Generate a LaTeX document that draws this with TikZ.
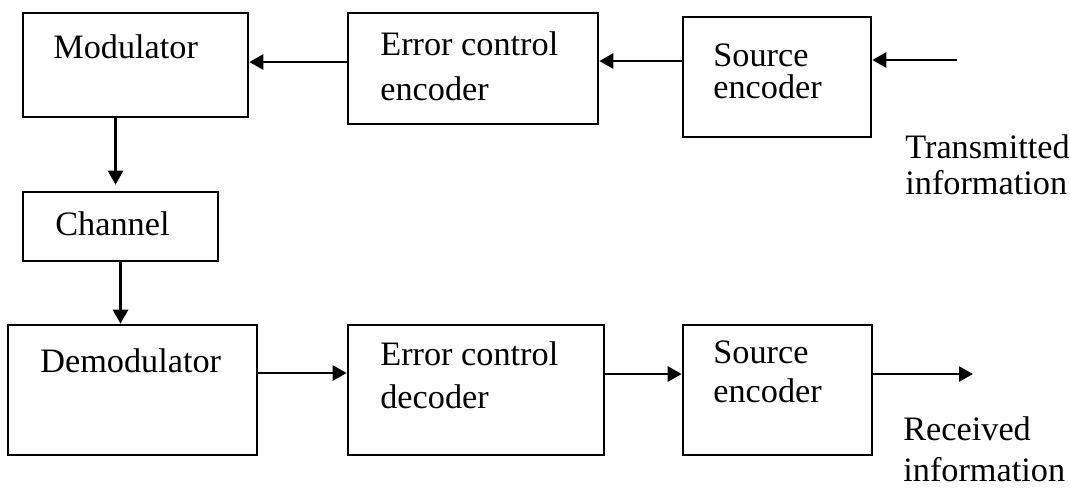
\documentclass[tikz,border=0pt]{standalone}
\usepackage{fontspec}
\setmainfont{Liberation Serif}
\usetikzlibrary{arrows.meta}
\tikzset{
	blk/.style={draw, rectangle, line width=1.5pt, inner sep=0pt},
	txt/.style={anchor=base west, inner sep=0pt, font=\fontsize{19.5}{23}\selectfont},
	arr/.style={line width=1.5pt, -{Triangle[length=0.28cm,width=0.3cm]}}
}
\begin{document}
\begin{tikzpicture}[x=0.02cm, y=-0.02cm]
			\useasboundingbox (0,0) rectangle (1070,488);

			% transmitter row
			\node [blk, minimum width=4.5cm, minimum height=2.08cm] (mod) at (135.5,65) {};
			\node [blk, minimum width=5cm, minimum height=2.22cm] (ece) at (473,68.5) {};
			\node [blk, minimum width=3.76cm, minimum height=2.4cm] (senc) at (777,77) {};
			\node [blk, minimum width=3.9cm, minimum height=1.38cm] (chan) at (120.5,226.5) {};

			% receiver row
			\node [blk, minimum width=4.98cm, minimum height=2.6cm] (demod) at (132.5,390) {};
			\node [blk, minimum width=5.12cm, minimum height=2.6cm] (ecd) at (476,390) {};
			\node [blk, minimum width=3.78cm, minimum height=2.6cm] (sdec) at (777.5,390) {};

			\node [txt] (modtxt) at (53,58) {Modulator};
			\node [txt] (ecetxt1) at (380,55) {Error control};
			\node [txt] (ecetxt2) at (380,100) {encoder};
			\node [txt] (senctxt1) at (713,66) {Source};
			\node [txt] (senctxt2) at (713,98) {encoder};
			\node [txt] (tintxt1) at (905,158) {Transmitted};
			\node [txt] (tintxt2) at (905,194) {information};
			\node [txt] (chantxt) at (55,235) {Channel};
			\node [txt] (demodtxt) at (40,372) {Demodulator};
			\node [txt] (ecdtxt1) at (380,365) {Error control};
			\node [txt] (ecdtxt2) at (380,408) {decoder};
			\node [txt] (sdectxt1) at (713,363) {Source};
			\node [txt] (sdectxt2) at (713,402) {encoder};
			\node [txt] (touttxt1) at (903,440) {Received};
			\node [txt] (touttxt2) at (903,481) {information};

			\coordinate (tin) at (957,60);
			\coordinate (tout) at (973,374);
			\coordinate (s1) at ([yshift=0.32cm]senc.west);
			\coordinate (e1) at ([yshift=0.13cm]ece.west);
			\coordinate (m1) at ([xshift=-0.4cm]mod.south);
			\coordinate (d1) at ([yshift=0.34cm]demod.east);
			\coordinate (c1) at ([yshift=0.32cm]ecd.east);

			\draw [arr] (tin) -- (tin -| senc.east);
			\draw [arr] (s1) -- (s1 -| ece.east);
			\draw [arr] (e1) -- (e1 -| mod.east);
			\draw [arr, shorten >=0.12cm] (m1) -- (m1 |- chan.north);
			\draw [arr] (chan.south) -- (chan.south |- demod.north);
			\draw [arr] (d1) -- (d1 -| ecd.west);
			\draw [arr] (c1) -- (c1 -| sdec.west);
			\draw [arr] (sdec.east |- tout) -- (tout);
		\end{tikzpicture}
\end{document}
